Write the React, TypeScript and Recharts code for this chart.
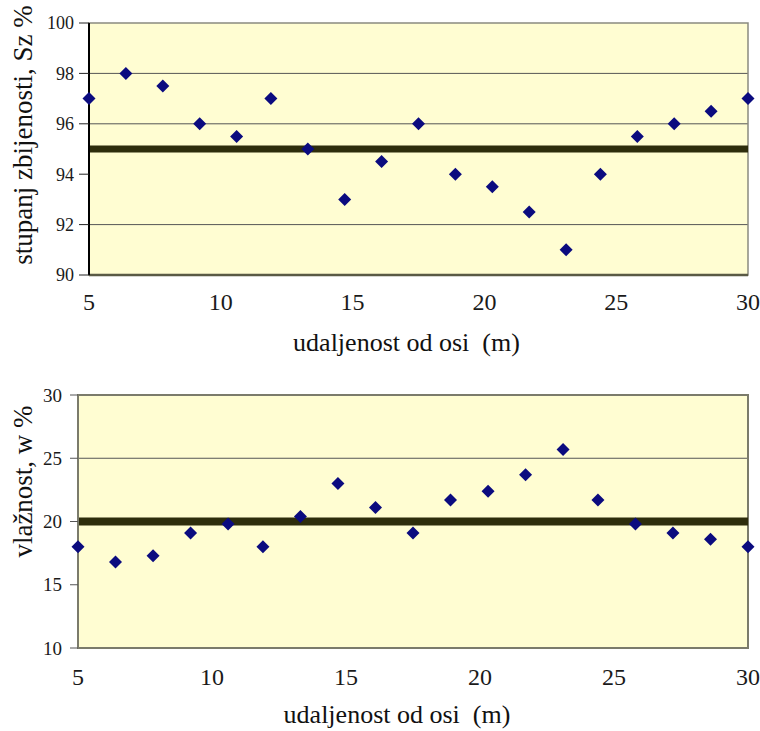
import {
  ScatterChart,
  Scatter,
  XAxis,
  YAxis,
  CartesianGrid,
  ReferenceLine,
  ReferenceArea,
} from 'recharts'

// udaljenost od osi (m)
const distance = [5, 6.4, 7.8, 9.2, 10.6, 11.9, 13.3, 14.7, 16.1, 17.5, 18.9, 20.3, 21.7, 23.1, 24.4, 25.8, 27.2, 28.6, 30]
// stupanj zbijenosti, Sz %
const compaction = [97, 98, 97.5, 96, 95.5, 97, 95, 93, 94.5, 96, 94, 93.5, 92.5, 91, 94, 95.5, 96, 96.5, 97]
// vlažnost, w %
const moisture = [18, 16.8, 17.3, 19.1, 19.8, 18, 20.4, 23, 21.1, 19.1, 21.7, 22.4, 23.7, 25.7, 21.7, 19.8, 19.1, 18.6, 18]

const xTicks = [5, 10, 15, 20, 25, 30]
const compactionTicks = [90, 92, 94, 96, 98, 100]
const moistureTicks = [10, 15, 20, 25, 30]
const compactionLimit = 95
const moistureLimit = 20

// a single family name, font lists are not picked up by the renderer
const FONT = 'Liberation Serif'
const BG = '#fffdd2'
const MARKER = '#0b0b7f'
const LIMIT = '#2e2d0c'

const compactionData = distance.map((x, i) => ({ x, y: compaction[i] }))
const moistureData = distance.map((x, i) => ({ x, y: moisture[i] }))

function Diamond(props: any) {
  const { cx, cy } = props
  if (cx == null || cy == null) return null
  const r = 6.5
  return <path d={`M${cx},${cy - r}L${cx + r},${cy}L${cx},${cy + r}L${cx - r},${cy}Z`} fill={MARKER} />
}

function yTitle(text: string, dy: number) {
  return ({ viewBox }: any) => {
    const cx = viewBox.x + 23
    const cy = viewBox.y + viewBox.height / 2 + dy
    return (
      <text
        transform={`translate(${cx},${cy}) rotate(-90)`}
        textAnchor="middle"
        dominantBaseline="central"
        fontFamily={FONT}
        fontSize={27}
        fill="#111"
      >
        {text}
      </text>
    )
  }
}

function xTitle(text: string, dx: number, baseline: number) {
  return ({ viewBox }: any) => (
    <text
      x={viewBox.x + viewBox.width / 2 + dx}
      y={viewBox.y + baseline}
      textAnchor="middle"
      fontFamily={FONT}
      fontSize={26}
      fill="#111"
    >
      {text}
    </text>
  )
}

const tickStyle = (size: number) => ({ fontSize: size, fill: '#1a1a1a', fontFamily: FONT })

export default function App() {
  return (
    <div style={{ position: 'absolute', left: 0, top: 0, width: 760, height: 731, overflow: 'hidden', background: '#fff' }}>
      <ScatterChart width={760} height={365} margin={{ top: 23, right: 12, bottom: 0, left: 0 }}>
        <CartesianGrid horizontal vertical={false} horizontalValues={[92, 96, 98]} stroke="#555" fill={BG} fillOpacity={1} />
        <ReferenceArea x1={5} x2={30} y1={90} y2={100} fill="none" stroke="#8a8a80" strokeWidth={1.5} />
        <XAxis
          type="number"
          dataKey="x"
          domain={[5, 30]}
          ticks={xTicks}
          height={90}
          tickLine={false}
          tickMargin={12}
          axisLine={{ stroke: '#5a5a45', strokeWidth: 2.5 }}
          tick={tickStyle(24)}
          label={{ content: xTitle('udaljenost od osi\u00a0\u00a0(m)', -12, 76) }}
        />
        <YAxis
          type="number"
          dataKey="y"
          domain={[90, 100]}
          ticks={compactionTicks}
          width={89}
          tickSize={10}
          tickMargin={5}
          tickLine={{ stroke: '#222' }}
          axisLine={{ stroke: '#000', strokeWidth: 2 }}
          tick={tickStyle(18)}
          label={{ content: yTitle('stupanj zbijenosti, Sz %', -14) }}
        />
        <ReferenceLine y={compactionLimit} stroke={LIMIT} strokeWidth={7} />
        <Scatter data={compactionData} shape={Diamond} isAnimationActive={false} />
      </ScatterChart>
      <ScatterChart width={760} height={366} margin={{ top: 30, right: 12, bottom: 0, left: 0 }}>
        <CartesianGrid horizontal vertical={false} horizontalValues={[25]} stroke="#555" fill={BG} fillOpacity={1} />
        <ReferenceArea x1={5} x2={30} y1={10} y2={30} fill="none" stroke="#7b7b6b" strokeWidth={2} />
        <XAxis
          type="number"
          dataKey="x"
          domain={[5, 30]}
          ticks={xTicks}
          height={83}
          tickLine={false}
          tickMargin={14}
          axisLine={{ stroke: '#7b7b6b', strokeWidth: 2 }}
          tick={tickStyle(24)}
          label={{ content: xTitle('udaljenost od osi\u00a0\u00a0(m)', -16, 75) }}
        />
        <YAxis
          type="number"
          dataKey="y"
          domain={[10, 30]}
          ticks={moistureTicks}
          width={78}
          tickSize={8}
          tickMargin={8}
          tickLine={{ stroke: '#555' }}
          axisLine={{ stroke: '#7b7b6b', strokeWidth: 2 }}
          tick={tickStyle(19)}
          label={{ content: yTitle('vlažnost, w %', -40) }}
        />
        <ReferenceLine y={moistureLimit} stroke={LIMIT} strokeWidth={8} />
        <Scatter data={moistureData} shape={Diamond} isAnimationActive={false} />
      </ScatterChart>
    </div>
  )
}
